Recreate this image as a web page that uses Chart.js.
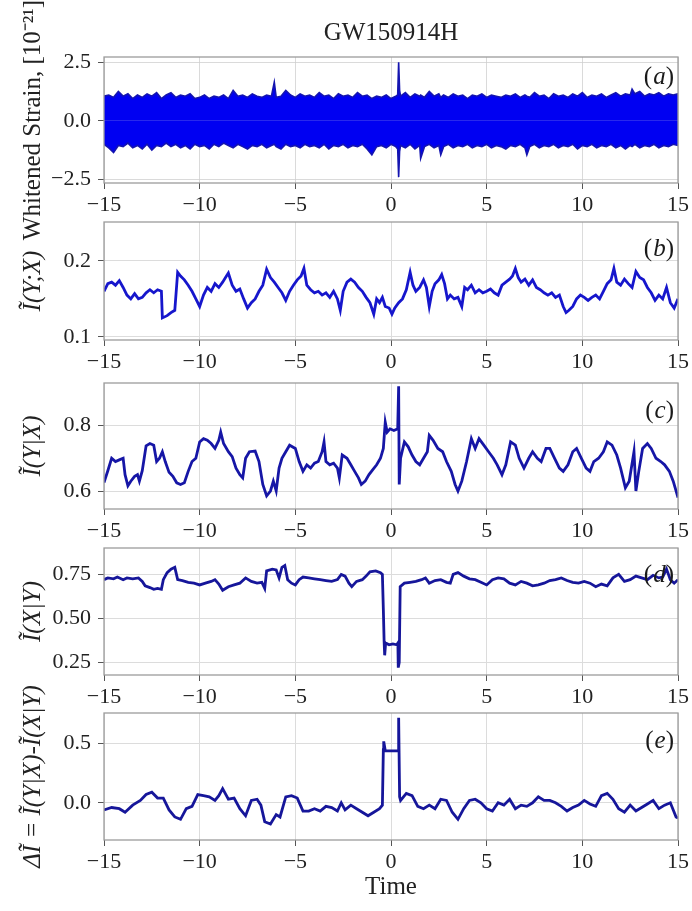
<!DOCTYPE html>
<html>
<head>
<meta charset="utf-8">
<script src="https://cdn.jsdelivr.net/npm/chart.js@4.4.0/dist/chart.umd.min.js"></script>
<style>
  body { margin: 0; background: #fff; }
  #fig { position: relative; width: 692px; height: 911px; overflow: hidden; background: #fff; }
  #fig canvas { position: absolute; left: 0; }
</style>
</head>
<body>
<div id="fig">
  <canvas id="chartA" width="692" height="260" style="top:0px"></canvas>
  <canvas id="chartB" width="692" height="200" style="top:200px"></canvas>
  <canvas id="chartC" width="692" height="200" style="top:360px"></canvas>
  <canvas id="chartD" width="692" height="200" style="top:525px"></canvas>
  <canvas id="chartE" width="692" height="271" style="top:640px"></canvas>
</div>
<script>
// x ticks shared by every panel
const timeTicks = [-15, -10, -5, 0, 5, 10, 15];

// (a) whitened strain: upper and lower edge of the dense noise band
const tA = [-15,-14.75,-14.5,-14.25,-14,-13.75,-13.5,-13.25,-13,-12.75,
  -12.5,-12.25,-12,-11.75,-11.5,-11.25,-11,-10.75,-10.5,-10.25,
  -10,-9.75,-9.5,-9.25,-9,-8.75,-8.5,-8.25,-8,-7.75,
  -7.5,-7.25,-7,-6.75,-6.5,-6.25,-6.1,-6,-5.75,-5.5,
  -5.25,-5,-4.75,-4.5,-4.25,-4,-3.75,-3.5,-3.25,-3,
  -2.75,-2.5,-2.25,-2,-1.75,-1.5,-1.25,-1,-0.75,-0.5,
  -0.25,0,0.25,0.35,0.4,0.45,0.5,0.75,1,1.25,
  1.5,1.55,1.75,2,2.25,2.5,2.6,2.75,3,3.25,
  3.5,3.75,4,4.25,4.5,4.75,5,5.25,5.5,5.75,
  6,6.25,6.5,6.75,7,7.1,7.25,7.5,7.75,8,
  8.25,8.5,8.75,9,9.25,9.5,9.75,10,10.25,10.5,
  10.75,11,11.25,11.5,11.75,12,12.25,12.5,12.6,12.75,
  13,13.25,13.5,13.75,14,14.25,14.5,14.75,15];
const strainUpper = [1.05,1.1,1.0,1.25,1.05,1.15,0.95,1.1,1.0,1.15,
  1.05,1.2,0.95,1.1,1.2,1.0,1.1,1.05,1.15,0.95,
  1.0,1.1,0.95,1.05,1.0,1.1,0.95,1.3,1.05,1.1,
  1.0,1.15,1.05,1.0,1.1,1.05,1.65,1.0,1.05,1.3,
  1.1,1.0,1.15,1.05,1.1,1.0,1.2,1.05,1.1,0.95,
  1.15,1.05,1.1,1.0,1.2,1.05,1.1,0.95,1.05,1.0,
  1.1,0.95,1.05,1.1,2.5,1.3,1.05,1.2,1.0,1.15,
  1.05,1.1,1.0,1.25,1.05,1.15,1.0,1.1,1.0,1.15,
  1.05,1.1,0.95,1.1,1.05,1.15,1.0,1.1,1.05,1.0,
  1.1,1.05,1.15,1.0,1.1,1.05,1.0,1.2,1.05,1.1,
  0.95,1.15,1.05,1.1,1.0,1.15,1.05,1.2,1.0,1.1,
  1.05,1.15,1.0,1.1,1.2,1.05,1.15,1.1,1.35,1.15,
  1.25,1.05,1.15,1.1,1.2,1.05,1.15,1.1,1.15];
const strainLower = [-1.0,-1.15,-1.35,-1.05,-1.1,-0.95,-1.15,-1.05,-1.2,-1.0,
  -1.25,-1.05,-1.1,-0.95,-1.1,-1.0,-1.15,-1.05,-1.2,-1.0,
  -1.1,-1.05,-1.2,-1.0,-1.1,-0.95,-1.05,-1.15,-1.0,-1.1,
  -1.2,-1.05,-1.1,-1.0,-1.15,-1.05,-1.0,-1.1,-1.2,-1.0,
  -1.1,-1.05,-1.15,-1.0,-1.1,-1.05,-1.15,-1.0,-1.2,-1.05,
  -1.1,-1.0,-1.15,-1.05,-1.1,-1.0,-1.2,-1.45,-1.1,-1.05,
  -1.15,-1.0,-1.1,-1.2,-2.4,-1.3,-1.05,-1.15,-1.0,-1.2,
  -1.05,-1.6,-1.1,-1.0,-1.15,-1.05,-1.45,-1.1,-1.0,-1.15,
  -1.05,-1.1,-1.0,-1.15,-1.05,-1.1,-1.0,-1.15,-1.05,-1.1,
  -1.2,-1.05,-1.1,-1.0,-1.15,-1.45,-1.1,-1.0,-1.15,-1.05,
  -1.1,-1.0,-1.15,-1.05,-1.1,-1.0,-1.2,-1.05,-1.1,-1.0,
  -1.15,-1.05,-1.1,-1.0,-1.15,-1.05,-1.2,-1.05,-1.1,-1.0,
  -1.15,-1.05,-1.1,-1.0,-1.15,-1.05,-1.1,-1.0,-1.05];
const ticksA = [-2.5, 0, 2.5];

// (b) I(Y;X)
const tB = [-15,-14.8,-14.6,-14.4,-14.2,-14.0,-13.8,-13.6,-13.4,-13.2,
  -13.0,-12.8,-12.6,-12.4,-12.2,-12.0,-11.95,-11.7,-11.5,-11.3,
  -11.15,-11.0,-10.8,-10.6,-10.4,-10.2,-10.0,-9.8,-9.6,-9.4,
  -9.2,-9.0,-8.8,-8.6,-8.5,-8.3,-8.1,-7.9,-7.7,-7.5,
  -7.3,-7.1,-6.9,-6.7,-6.5,-6.3,-6.1,-5.9,-5.7,-5.5,
  -5.3,-5.1,-4.9,-4.7,-4.55,-4.4,-4.2,-4.0,-3.8,-3.6,
  -3.4,-3.2,-3.0,-2.8,-2.65,-2.5,-2.3,-2.1,-1.9,-1.7,
  -1.5,-1.3,-1.1,-0.9,-0.75,-0.6,-0.45,-0.3,-0.1,0.05,
  0.2,0.4,0.6,0.8,1.0,1.15,1.3,1.5,1.7,1.85,
  2.0,2.15,2.3,2.5,2.65,2.8,2.95,3.1,3.3,3.5,
  3.7,3.85,4.0,4.2,4.4,4.6,4.8,5.0,5.2,5.4,
  5.6,5.8,6.0,6.2,6.35,6.5,6.65,6.8,7.0,7.2,
  7.4,7.6,7.8,8.0,8.2,8.4,8.6,8.8,9.0,9.15,
  9.3,9.5,9.7,9.9,10.1,10.3,10.5,10.7,10.9,11.1,
  11.3,11.5,11.65,11.8,12.0,12.2,12.4,12.6,12.8,13.0,
  13.2,13.4,13.6,13.8,14.0,14.2,14.4,14.6,14.8,15.0];
const mutualInfo = [0.160,0.170,0.172,0.168,0.174,0.165,0.155,0.150,0.157,0.150,
  0.152,0.158,0.162,0.158,0.162,0.160,0.125,0.128,0.132,0.135,
  0.185,0.180,0.175,0.168,0.160,0.150,0.140,0.155,0.165,0.160,
  0.170,0.165,0.172,0.180,0.184,0.168,0.160,0.163,0.150,0.138,
  0.145,0.150,0.160,0.168,0.189,0.178,0.172,0.165,0.158,0.148,
  0.160,0.168,0.175,0.180,0.190,0.168,0.162,0.158,0.160,0.155,
  0.158,0.152,0.160,0.150,0.135,0.160,0.172,0.176,0.172,0.165,
  0.160,0.152,0.145,0.130,0.150,0.145,0.152,0.140,0.138,0.130,
  0.138,0.145,0.150,0.162,0.185,0.168,0.160,0.165,0.175,0.165,
  0.140,0.160,0.170,0.175,0.182,0.170,0.150,0.155,0.150,0.152,
  0.140,0.165,0.162,0.168,0.158,0.162,0.158,0.160,0.163,0.158,
  0.155,0.168,0.172,0.176,0.180,0.190,0.178,0.172,0.176,0.168,
  0.175,0.165,0.162,0.158,0.155,0.158,0.152,0.155,0.140,0.132,
  0.135,0.140,0.150,0.155,0.152,0.148,0.152,0.155,0.150,0.160,
  0.170,0.175,0.190,0.172,0.168,0.176,0.170,0.165,0.186,0.178,
  0.175,0.165,0.158,0.148,0.155,0.150,0.165,0.145,0.138,0.150];
const ticksB = [0.1, 0.2];

// (c) I(Y|X)
const tC = [-15,-14.8,-14.6,-14.4,-14.2,-14.0,-13.9,-13.75,-13.6,-13.4,
  -13.25,-13.15,-13.0,-12.9,-12.8,-12.6,-12.4,-12.25,-12.1,-11.95,
  -11.8,-11.6,-11.4,-11.2,-11.0,-10.8,-10.6,-10.4,-10.2,-10.0,
  -9.8,-9.6,-9.4,-9.2,-9.0,-8.9,-8.75,-8.5,-8.3,-8.1,
  -7.9,-7.75,-7.6,-7.4,-7.1,-6.9,-6.7,-6.5,-6.3,-6.15,
  -6.0,-5.85,-5.7,-5.5,-5.3,-5.0,-4.8,-4.6,-4.4,-4.2,
  -4.0,-3.8,-3.6,-3.5,-3.4,-3.2,-3.0,-2.8,-2.7,-2.55,
  -2.3,-2.1,-1.9,-1.7,-1.55,-1.35,-1.15,-0.95,-0.75,-0.55,
  -0.4,-0.3,-0.2,-0.05,0.15,0.35,0.4,0.43,0.5,0.7,
  0.9,1.1,1.3,1.5,1.7,1.9,2.0,2.2,2.45,2.7,
  2.9,3.15,3.35,3.5,3.7,3.95,4.2,4.4,4.6,4.85,
  5.1,5.35,5.55,5.8,6.0,6.25,6.5,6.7,6.95,7.2,
  7.4,7.65,7.85,8.1,8.3,8.55,8.8,9.0,9.25,9.5,
  9.7,9.95,10.2,10.4,10.6,10.85,11.1,11.3,11.55,11.8,
  12.0,12.25,12.45,12.7,12.8,12.95,13.15,13.4,13.6,13.85,
  14.1,14.3,14.55,14.75,15.0];
const infoYgivenX = [0.626,0.662,0.700,0.690,0.695,0.700,0.650,0.616,0.630,0.645,
  0.650,0.630,0.662,0.700,0.738,0.745,0.740,0.690,0.700,0.720,
  0.690,0.657,0.645,0.625,0.620,0.625,0.660,0.690,0.700,0.750,
  0.760,0.755,0.745,0.730,0.755,0.780,0.745,0.720,0.705,0.670,
  0.650,0.640,0.700,0.720,0.722,0.690,0.620,0.585,0.600,0.630,
  0.600,0.670,0.700,0.720,0.740,0.730,0.690,0.660,0.680,0.670,
  0.685,0.690,0.720,0.750,0.690,0.680,0.685,0.670,0.640,0.710,
  0.700,0.680,0.660,0.640,0.620,0.630,0.650,0.665,0.680,0.700,
  0.730,0.810,0.780,0.790,0.785,0.790,0.920,0.620,0.700,0.750,
  0.735,0.710,0.690,0.680,0.700,0.720,0.770,0.755,0.730,0.720,
  0.690,0.660,0.620,0.600,0.630,0.690,0.760,0.730,0.760,0.740,
  0.720,0.700,0.680,0.650,0.680,0.750,0.740,0.700,0.670,0.700,
  0.720,0.700,0.690,0.730,0.730,0.700,0.670,0.660,0.680,0.720,
  0.730,0.700,0.670,0.660,0.690,0.700,0.720,0.750,0.740,0.710,
  0.670,0.610,0.630,0.720,0.600,0.660,0.730,0.745,0.730,0.700,
  0.690,0.680,0.660,0.630,0.580];
const ticksC = [0.6, 0.8];

// (d) I(X|Y)
const tD = [-15,-14.8,-14.5,-14.3,-14.0,-13.8,-13.5,-13.2,-13.0,-12.85,
  -12.6,-12.4,-12.2,-12.0,-11.9,-11.7,-11.5,-11.3,-11.15,-10.9,
  -10.6,-10.3,-10.0,-9.7,-9.4,-9.2,-9.0,-8.8,-8.5,-8.2,
  -7.9,-7.6,-7.3,-7.0,-6.75,-6.6,-6.5,-6.2,-6.0,-5.85,
  -5.7,-5.55,-5.4,-5.2,-5.0,-4.8,-4.6,-4.3,-4.0,-3.7,
  -3.4,-3.1,-2.8,-2.6,-2.4,-2.2,-2.05,-1.8,-1.5,-1.3,
  -1.1,-0.8,-0.55,-0.45,-0.4,-0.36,-0.33,-0.28,-0.1,0.1,
  0.3,0.36,0.38,0.43,0.48,0.7,1.0,1.3,1.6,1.8,
  2.0,2.3,2.6,2.9,3.1,3.25,3.5,3.8,4.1,4.4,
  4.7,5.0,5.3,5.6,5.9,6.2,6.5,6.8,7.1,7.4,
  7.7,8.0,8.3,8.6,8.9,9.2,9.5,9.8,10.1,10.4,
  10.7,11.0,11.3,11.6,11.9,12.2,12.5,12.8,13.1,13.4,
  13.7,14.0,14.2,14.4,14.6,14.8,15.0];
const infoXgivenY = [0.72,0.73,0.725,0.735,0.72,0.73,0.725,0.73,0.71,0.685,
  0.675,0.665,0.67,0.665,0.72,0.76,0.78,0.79,0.72,0.715,
  0.705,0.70,0.69,0.70,0.71,0.72,0.695,0.66,0.68,0.69,
  0.70,0.73,0.71,0.70,0.705,0.67,0.77,0.78,0.775,0.73,
  0.79,0.80,0.72,0.70,0.69,0.72,0.735,0.73,0.725,0.72,
  0.715,0.71,0.72,0.75,0.74,0.70,0.68,0.71,0.72,0.74,
  0.765,0.77,0.76,0.75,0.55,0.37,0.29,0.36,0.35,0.355,
  0.35,0.36,0.22,0.25,0.68,0.70,0.705,0.71,0.72,0.73,
  0.70,0.715,0.72,0.705,0.70,0.75,0.76,0.74,0.725,0.72,
  0.705,0.69,0.72,0.73,0.725,0.70,0.69,0.71,0.70,0.685,
  0.69,0.70,0.715,0.72,0.73,0.715,0.705,0.70,0.71,0.70,
  0.68,0.695,0.685,0.73,0.75,0.71,0.72,0.74,0.73,0.72,
  0.745,0.73,0.735,0.78,0.72,0.70,0.72];
const ticksD = [0.25, 0.5, 0.75];

// (e) delta I = I(Y|X) - I(X|Y)
const tE = [-15,-14.6,-14.2,-13.9,-13.5,-13.1,-12.8,-12.5,-12.2,-11.9,
  -11.6,-11.3,-11.0,-10.7,-10.4,-10.1,-9.8,-9.5,-9.2,-9.0,
  -8.8,-8.5,-8.2,-7.9,-7.6,-7.3,-7.0,-6.8,-6.6,-6.3,
  -6.0,-5.8,-5.5,-5.2,-4.9,-4.6,-4.3,-4.0,-3.7,-3.4,
  -3.1,-2.8,-2.6,-2.4,-2.1,-1.8,-1.5,-1.2,-0.9,-0.6,
  -0.45,-0.4,-0.38,-0.3,0.0,0.3,0.38,0.4,0.45,0.5,
  0.8,1.1,1.4,1.7,2.0,2.3,2.6,2.9,3.2,3.5,
  3.8,4.1,4.4,4.7,5.0,5.3,5.6,5.9,6.2,6.5,
  6.8,7.1,7.4,7.7,8.0,8.3,8.6,8.9,9.2,9.5,
  9.8,10.1,10.4,10.7,11.0,11.3,11.6,11.9,12.2,12.5,
  12.8,13.1,13.4,13.7,14.0,14.3,14.6,14.9,15];
const deltaInfo = [-0.06,-0.04,-0.05,-0.08,-0.02,0.02,0.07,0.09,0.04,0.04,
  -0.06,-0.12,-0.14,-0.05,-0.03,0.07,0.06,0.05,0.02,0.06,
  0.12,0.03,0.04,-0.05,-0.11,0.02,0.03,-0.02,-0.16,-0.18,
  -0.10,-0.12,0.05,0.06,0.04,-0.07,-0.07,-0.05,-0.07,-0.03,
  -0.04,-0.07,0.0,-0.06,-0.02,-0.05,-0.08,-0.11,-0.08,-0.05,
  -0.02,0.45,0.52,0.44,0.44,0.44,0.44,0.72,0.05,0.02,
  0.08,0.06,-0.03,-0.05,-0.02,-0.05,0.03,0.02,-0.08,-0.14,
  -0.05,0.02,0.03,0.0,-0.05,-0.07,0.0,-0.02,0.03,-0.05,
  -0.02,-0.03,0.0,0.05,0.02,0.02,0.0,-0.03,-0.07,-0.04,
  -0.02,0.02,-0.01,-0.03,0.06,0.08,0.03,-0.05,-0.08,-0.02,
  -0.07,-0.04,-0.01,0.02,-0.05,-0.02,0.0,-0.12,-0.13];
const ticksE = [0, 0.5];

Chart.defaults.font.family = '"Liberation Serif", "Times New Roman", serif';
Chart.defaults.color = '#222';

const minus = s => String(s).replace('-', '\u2212');
const toPoints = (xs, ys) => xs.map((x, i) => ({ x: x, y: ys[i] }));

// box round the plot area plus the "(a)" style panel tag
const panelFrame = {
  id: 'panelFrame',
  afterDraw(chart, args, opts) {
    const { ctx, chartArea: a } = chart;
    ctx.save();
    ctx.strokeStyle = '#9c9c9c';
    ctx.lineWidth = 1.3;
    ctx.strokeRect(a.left, a.top, a.right - a.left, a.bottom - a.top);
    const parts = [['(', '25px'], [opts.tag, 'italic 25px'], [')', '25px']];
    const fam = ' "Liberation Serif", serif';
    let w = 0;
    parts.forEach(p => { ctx.font = p[1] + fam; w += ctx.measureText(p[0]).width; });
    let x = a.right - 5 - w;
    const y = a.top + opts.offset;
    ctx.fillStyle = '#1a1a1a';
    ctx.textBaseline = 'middle';
    parts.forEach(p => {
      ctx.font = p[1] + fam;
      ctx.fillText(p[0], x, y);
      x += ctx.measureText(p[0]).width + (p[0] === '(' ? 1 : 0);
    });
    ctx.restore();
  }
};

function panel(id, o) {
  return new Chart(document.getElementById(id), {
    type: 'line',
    data: { datasets: o.datasets },
    options: {
      responsive: false,
      animation: false,
      events: [],
      layout: { padding: o.padding },
      elements: { point: { radius: 0 }, line: { tension: 0 } },
      plugins: {
        legend: { display: false },
        tooltip: { enabled: false },
        title: o.title || { display: false },
        panelFrame: { tag: o.tag, offset: o.tagOffset }
      },
      scales: {
        x: {
          type: 'linear', min: -15, max: 15, z: o.z || 0,
          afterBuildTicks: s => { s.ticks = timeTicks.map(v => ({ value: v })); },
          afterFit: s => { s.height = o.xHeight; },
          ticks: { font: { size: 22 }, color: '#222', padding: 3, maxRotation: 0,
                   callback: v => minus(v) },
          grid: { color: o.gridColor || '#dcdcdc', lineWidth: 1, tickLength: 6, tickColor: '#555' },
          border: { display: false },
          title: o.xTitle || { display: false }
        },
        y: {
          min: o.yMin, max: o.yMax, z: o.z || 0,
          afterBuildTicks: s => { s.ticks = o.yTicks.map(v => ({ value: v })); },
          afterFit: s => { s.width = 104; },
          ticks: { font: { size: 22 }, color: '#222', padding: 7,
                   callback: v => minus(v.toFixed(o.dec)) },
          grid: { color: o.gridColor || '#dcdcdc', lineWidth: 1, tickLength: 6, tickColor: '#555' },
          border: { display: false },
          title: { display: true, text: o.yTitle, color: '#222',
                   font: { size: 25, style: o.yItalic ? 'italic' : 'normal' },
                   padding: { top: 18, bottom: 0 } }
        }
      }
    },
    plugins: [panelFrame]
  });
}

const lineSet = (xs, ys, color) => ({
  data: toPoints(xs, ys), borderColor: color, borderWidth: 2.8, fill: false,
  borderJoinStyle: 'miter'
});

panel('chartA', {
  datasets: [
    { data: toPoints(tA, strainUpper), borderColor: '#1414b0', borderWidth: 1.6,
      backgroundColor: '#0000f2', fill: 'origin' },
    { data: toPoints(tA, strainLower), borderColor: '#1414b0', borderWidth: 1.6,
      backgroundColor: '#0000f2', fill: 'origin' }
  ],
  padding: { top: 0, right: 12, bottom: 47, left: 0 },
  title: { display: true, text: 'GW150914H', color: '#222', fullSize: false,
           font: { size: 25, weight: 'normal' }, padding: { top: 18, bottom: 9 } },
  xHeight: 30, yMin: -2.65, yMax: 2.72, yTicks: ticksA, dec: 1,
  yTitle: 'Whitened Strain, [10\u207B\u00B2\u00B9]', yItalic: false,
  tag: 'a', tagOffset: 20, z: 1, gridColor: 'rgba(205,205,205,0.75)'
});

panel('chartB', {
  datasets: [lineSet(tB, mutualInfo, '#1616cc')],
  padding: { top: 22, right: 12, bottom: 30, left: 0 },
  xHeight: 30, yMin: 0.096, yMax: 0.251, yTicks: ticksB, dec: 1,
  yTitle: '\u0128(Y;X)', yItalic: true, tag: 'b', tagOffset: 27
});

panel('chartC', {
  datasets: [lineSet(tC, infoYgivenX, '#1616a6')],
  padding: { top: 23, right: 12, bottom: 21, left: 0 },
  xHeight: 30, yMin: 0.545, yMax: 0.93, yTicks: ticksC, dec: 1,
  yTitle: '\u0128(Y|X)', yItalic: true, tag: 'c', tagOffset: 28
});

panel('chartD', {
  datasets: [lineSet(tD, infoXgivenY, '#16169a')],
  padding: { top: 23, right: 12, bottom: 20, left: 0 },
  xHeight: 30, yMin: 0.178, yMax: 0.90, yTicks: ticksD, dec: 2,
  yTitle: '\u0128(X|Y)', yItalic: true, tag: 'd', tagOffset: 27
});

panel('chartE', {
  datasets: [lineSet(tE, deltaInfo, '#16169a')],
  padding: { top: 73, right: 12, bottom: 9, left: 0 },
  xHeight: 62, yMin: -0.315, yMax: 0.76, yTicks: ticksE, dec: 1,
  xTitle: { display: true, text: 'Time', color: '#222', font: { size: 25 },
            padding: { top: 0, bottom: 0 } },
  yTitle: '\u0394\u0128 = \u0128(Y|X)-\u0128(X|Y)', yItalic: true, tag: 'e', tagOffset: 28
});
</script>
</body>
</html>
